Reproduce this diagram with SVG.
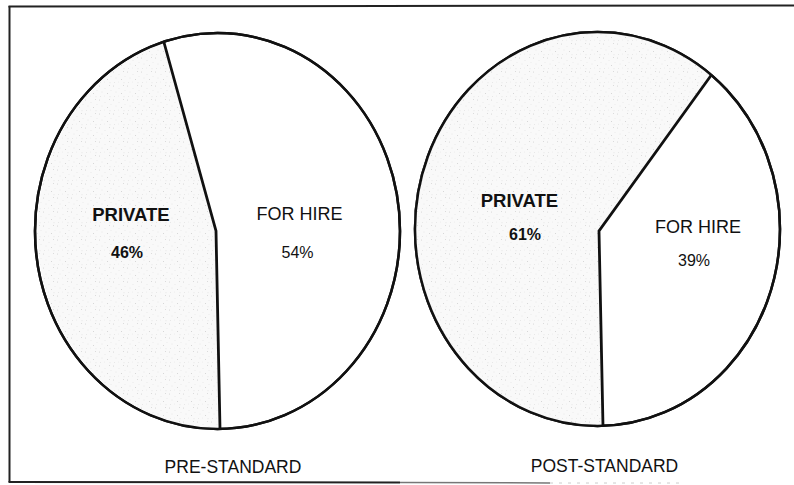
<svg xmlns="http://www.w3.org/2000/svg" width="794" height="485" viewBox="0 0 794 485">
  <style>
    .pie { fill: #ffffff; stroke: #111111; stroke-width: 2.5; }
    .priv { fill: url(#stipple); stroke: none; }
    .div { fill: none; stroke: #111111; stroke-width: 2.8; stroke-linejoin: miter; }
    .frame { stroke: #222222; stroke-width: 2; fill: none; }
    text { font-family: "Liberation Sans", Arial, Helvetica, sans-serif; fill: #111111; text-anchor: middle; }
    .lbl { font-size: 18px; }
    .lblb { font-size: 18.5px; font-weight: bold; }
    .pct { font-size: 16px; }
    .b { font-weight: bold; }
    .cap { font-size: 17.5px; }
  </style>
  <defs>
    <pattern id="stipple" width="14" height="14" patternUnits="userSpaceOnUse">
      <rect width="14" height="14" fill="#f9f9f9"/>
      <circle cx="1.5" cy="2" r="0.5" fill="#cfcfcf"/>
      <circle cx="7" cy="4.5" r="0.45" fill="#d8d8d8"/>
      <circle cx="11.5" cy="1.5" r="0.5" fill="#d2d2d2"/>
      <circle cx="4" cy="8" r="0.45" fill="#dadada"/>
      <circle cx="9.5" cy="9.5" r="0.5" fill="#cccccc"/>
      <circle cx="13" cy="6.5" r="0.4" fill="#dddddd"/>
      <circle cx="2.5" cy="12.5" r="0.45" fill="#d4d4d4"/>
      <circle cx="6.5" cy="12" r="0.4" fill="#e0e0e0"/>
      <circle cx="12" cy="12.8" r="0.45" fill="#d6d6d6"/>
    </pattern>
  </defs>

  <g id="frame">
    <line class="frame" x1="9.5" y1="6" x2="9.5" y2="482"/>
    <line class="frame" x1="8.5" y1="6.5" x2="794" y2="5.5"/>
    <line class="frame" x1="8.5" y1="482" x2="400" y2="482.5"/>
    <line x1="400" y1="482.5" x2="550" y2="483" stroke="#777777" stroke-width="1.5"/>
    <line x1="550" y1="483" x2="680" y2="483" stroke="#cccccc" stroke-width="1" stroke-dasharray="3 6"/>
  </g>

  <g id="pie-pre">
    <ellipse class="pie" cx="217.5" cy="231" rx="182.5" ry="198"/>
    <path id="pre-private" class="priv" d="M216,231 L164,42.5 A182.5,198 0 0 0 220,429 Z"/>
    <ellipse cx="217.5" cy="231" rx="182.5" ry="198" fill="none" stroke="#111111" stroke-width="2.5"/>
    <polyline class="div" points="164,42.5 216,231 220,429"/>
  </g>

  <g id="pie-post">
    <ellipse class="pie" cx="597.5" cy="229" rx="182.5" ry="197"/>
    <path id="post-private" class="priv" d="M599,231 L711,75.5 A182.5,197 0 1 0 603,426 Z"/>
    <ellipse cx="597.5" cy="229" rx="182.5" ry="197" fill="none" stroke="#111111" stroke-width="2.5"/>
    <polyline class="div" points="711,75.5 599,231 603,426"/>
  </g>

  <g id="labels-pre">
    <text class="lblb" x="131" y="220.5">PRIVATE</text>
    <text class="pct b" x="127" y="258">46%</text>
    <text class="lbl" x="299.5" y="220">FOR HIRE</text>
    <text class="pct" x="297.5" y="258">54%</text>
    <text class="cap" x="233" y="473">PRE-STANDARD</text>
  </g>

  <g id="labels-post">
    <text class="lblb" x="519.5" y="207">PRIVATE</text>
    <text class="pct b" x="525" y="240">61%</text>
    <text class="lbl" x="698" y="233">FOR HIRE</text>
    <text class="pct" x="694" y="266">39%</text>
    <text class="cap" x="604.5" y="472">POST-STANDARD</text>
  </g>
</svg>
